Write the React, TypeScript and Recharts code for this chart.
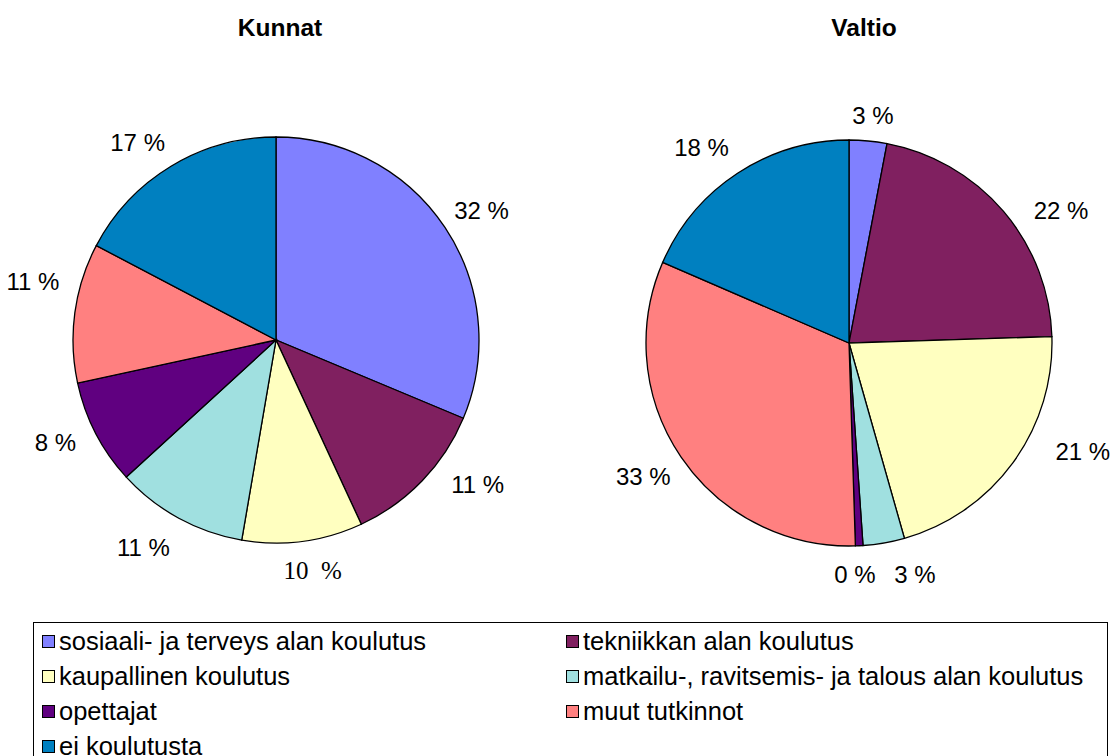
import React from "react";
import { PieChart, Pie, Cell } from "recharts";

const categories = [
  "sosiaali- ja terveys alan koulutus",
  "tekniikkan alan koulutus",
  "kaupallinen koulutus",
  "matkailu-, ravitsemis- ja talous alan koulutus",
  "opettajat",
  "muut tutkinnot",
  "ei koulutusta",
];

const colors = ["#8080FF", "#802060", "#FFFFC0", "#A0E0E0", "#600080", "#FF8080", "#0080C0"];

const kunnatValues = [31.3, 11.8, 9.6, 10.5, 8.4, 11.1, 17.3];
const kunnatLabels = ["32 %", "11 %", "10  %", "11 %", "8 %", "11 %", "17 %"];

const valtioValues = [3.0, 21.5, 21.1, 3.3, 0.6, 32.0, 18.5];
const valtioLabels = ["3 %", "22 %", "21 %", "3 %", "0 %", "33 %", "18 %"];

// label placement tweaks (angle nudge in degrees, distance from centre)
const kunnatLabelLayout = [
  { da: 1.4, r: 243 },
  { da: -8.3, r: 248 },
  { da: -1.5, r: 233 },
  { da: 4, r: 246 },
  { da: 2.5, r: 243 },
  { da: 5.7, r: 250 },
  { da: -3.9, r: 241 },
];
const valtioLabelLayout = [
  { da: 0.6, r: 229 },
  { da: 8.5, r: 250 },
  { da: -11.2, r: 258 },
  { da: -6, r: 241 },
  { da: 1.4, r: 232 },
  { da: 1.3, r: 245 },
  { da: -3.7, r: 245 },
];

const FONT = "'Liberation Sans', Arial, sans-serif";

const kunnatData = categories.map((name, i) => ({ name, value: kunnatValues[i], label: kunnatLabels[i] }));
const valtioData = categories.map((name, i) => ({ name, value: valtioValues[i], label: valtioLabels[i] }));

function makeLabel(labels: string[], layout: { da: number; r: number }[], serifIndex: number) {
  return (props: any) => {
    const { cx, cy, midAngle, index } = props;
    const a = ((90 - midAngle + layout[index].da) * Math.PI) / 180;
    const r = layout[index].r;
    const x = cx + r * Math.sin(a);
    const y = cy - r * Math.cos(a);
    const serif = index === serifIndex;
    return (
      <text
        key={"l" + index}
        x={x}
        y={y}
        textAnchor="middle"
        dominantBaseline="central"
        fill="#000"
        style={{
          fontFamily: serif ? "'Liberation Serif', 'Times New Roman', serif" : FONT,
          fontSize: serif ? 25 : 24,
          whiteSpace: "pre",
        }}
      >
        {labels[index]}
      </text>
    );
  };
}

const titleStyle: React.CSSProperties = {
  position: "absolute",
  width: 200,
  top: 14,
  textAlign: "center",
  fontFamily: FONT,
  fontWeight: "bold",
  fontSize: 24.5,
};

export default function App() {
  return (
    <div style={{ position: "absolute", left: 0, top: 0, width: 1113, height: 756, background: "#fff", overflow: "hidden" }}>
      <div style={{ ...titleStyle, left: 180 }}>Kunnat</div>
      <div style={{ ...titleStyle, left: 764 }}>Valtio</div>
      <div style={{ position: "absolute", left: 0, top: 0 }}>
        <PieChart width={1113} height={615} margin={{ top: 0, right: 0, bottom: 0, left: 0 }}>
          <Pie
            data={kunnatData}
            dataKey="value"
            nameKey="name"
            cx={276}
            cy={340}
            outerRadius={203}
            startAngle={90}
            endAngle={-270}
            stroke="#000"
            strokeWidth={1.3}
            isAnimationActive={false}
            labelLine={false}
            label={makeLabel(kunnatLabels, kunnatLabelLayout, 2)}
          >
            {kunnatData.map((d, i) => (
              <Cell key={d.name} fill={colors[i]} />
            ))}
          </Pie>
          <Pie
            data={valtioData}
            dataKey="value"
            nameKey="name"
            cx={849}
            cy={343}
            outerRadius={203}
            startAngle={90}
            endAngle={-270}
            stroke="#000"
            strokeWidth={1.3}
            isAnimationActive={false}
            labelLine={false}
            label={makeLabel(valtioLabels, valtioLabelLayout, -1)}
          >
            {valtioData.map((d, i) => (
              <Cell key={d.name} fill={colors[i]} />
            ))}
          </Pie>
        </PieChart>
      </div>
      <div
        style={{
          position: "absolute",
          left: 33,
          top: 622,
          width: 1075,
          height: 140,
          border: "1px solid #000",
          boxSizing: "border-box",
          fontFamily: FONT,
          fontSize: 25.5,
        }}
      >
        {categories.map((name, i) => {
          const col = i % 2;
          const row = Math.floor(i / 2);
          return (
            <div
              key={name}
              style={{
                position: "absolute",
                left: col === 0 ? 8 : 532,
                top: 18 + row * 35 - 15,
                height: 30,
                display: "flex",
                alignItems: "center",
                whiteSpace: "nowrap",
              }}
            >
              <span
                style={{
                  display: "inline-block",
                  width: 11,
                  height: 11,
                  background: colors[i],
                  border: "1.5px solid #000",
                  marginRight: 4,
                  flexShrink: 0,
                }}
              />
              <span>{name}</span>
            </div>
          );
        })}
      </div>
    </div>
  );
}
